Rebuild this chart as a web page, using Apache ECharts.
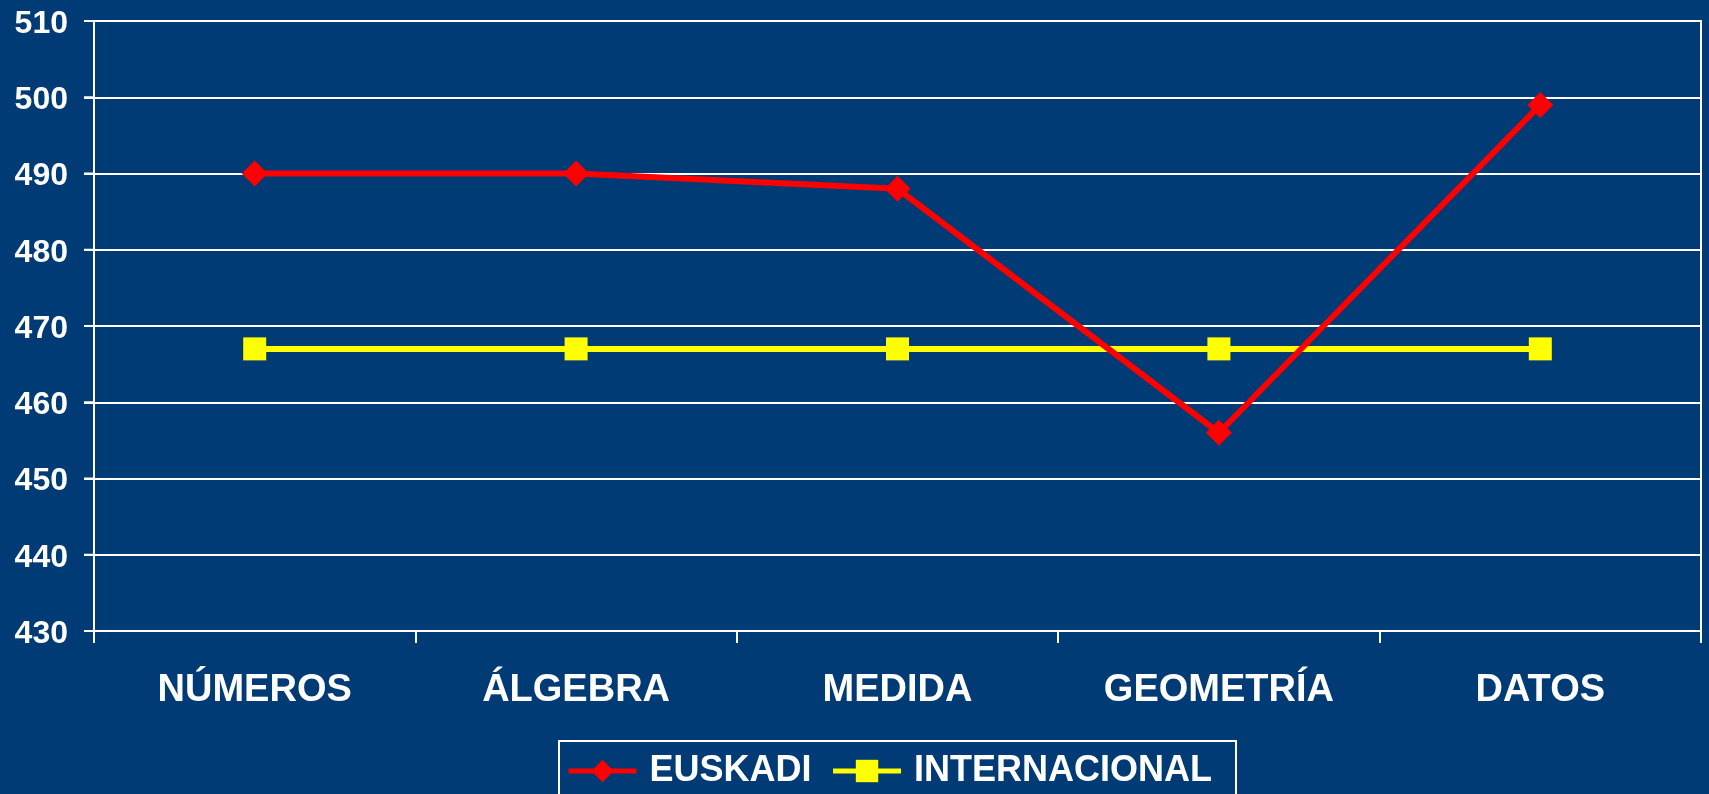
<!DOCTYPE html>
<html>
<head>
<meta charset="utf-8">
<script src="https://cdn.jsdelivr.net/npm/echarts@6/dist/echarts.min.js"></script>
<style>
  html, body { margin: 0; padding: 0; background: #003b75; }
  #chart { width: 1709px; height: 794px; }
</style>
</head>
<body>
<div id="chart"></div>
<script>
// datos
var categorias = ['NÚMEROS', 'ÁLGEBRA', 'MEDIDA', 'GEOMETRÍA', 'DATOS'];
var euskadi = [490, 490, 488, 456, 499];
var internacional = [467, 467, 467, 467, 467];

var myChart = echarts.init(document.getElementById('chart'));

var option = {
  backgroundColor: '#003b75',
  textStyle: { fontFamily: 'Liberation Sans, Arial, sans-serif', fontWeight: 'bold' },
  grid: {
    left: 94, right: 8, top: 21, bottom: 163,
    show: true, borderColor: '#ffffff', borderWidth: 2,
    backgroundColor: 'transparent'
  },
  legend: {
    left: 559, top: 741,
    padding: [12, 24, 30, 7],
    borderColor: '#ffffff', borderWidth: 2,
    itemWidth: 68, itemHeight: 28, itemGap: 19,
    lineStyle: { width: 5 },
    textStyle: { color: '#ffffff', fontSize: 36, fontWeight: 'bold', padding: [0, 0, 0, 8] },
    data: ['EUSKADI', 'INTERNACIONAL']
  },
  xAxis: {
    type: 'category',
    data: categorias,
    axisLine: { show: true, lineStyle: { color: '#ffffff', width: 2 } },
    axisTick: { show: true, length: 12, lineStyle: { color: '#ffffff', width: 2 } },
    axisLabel: { color: '#ffffff', fontSize: 38, fontWeight: 'bold', margin: 41, lineHeight: 38 }
  },
  yAxis: {
    type: 'value',
    min: 430, max: 510, interval: 10,
    axisLine: { show: true, lineStyle: { color: '#ffffff', width: 2 } },
    axisTick: { show: true, length: 10, lineStyle: { color: '#ffffff', width: 2 } },
    axisLabel: {
      margin: 0,
      // la marca de la escala va pegada a la etiqueta
      formatter: function (v) { return '{v|' + v + '}{s| }{t| }'; },
      rich: {
        v: { color: '#ffffff', fontSize: 32, fontWeight: 'bold', padding: [6, 0, 0, 0] },
        s: { width: 16, fontSize: 2 },
        t: { width: 10, height: 2, fontSize: 2, backgroundColor: '#ffffff', verticalAlign: 'middle' }
      }
    },
    splitLine: { show: true, lineStyle: { color: '#ffffff', width: 2 } }
  },
  series: [
    {
      name: 'EUSKADI',
      type: 'line',
      data: euskadi,
      symbol: 'diamond',
      symbolSize: 26,
      color: '#ff0000',
      lineStyle: { width: 6 },
      z: 3
    },
    {
      name: 'INTERNACIONAL',
      type: 'line',
      data: internacional,
      symbol: 'rect',
      symbolSize: 23,
      color: '#ffff00',
      lineStyle: { width: 6 },
      z: 2
    }
  ]
};

myChart.setOption(option);
</script>
</body>
</html>
